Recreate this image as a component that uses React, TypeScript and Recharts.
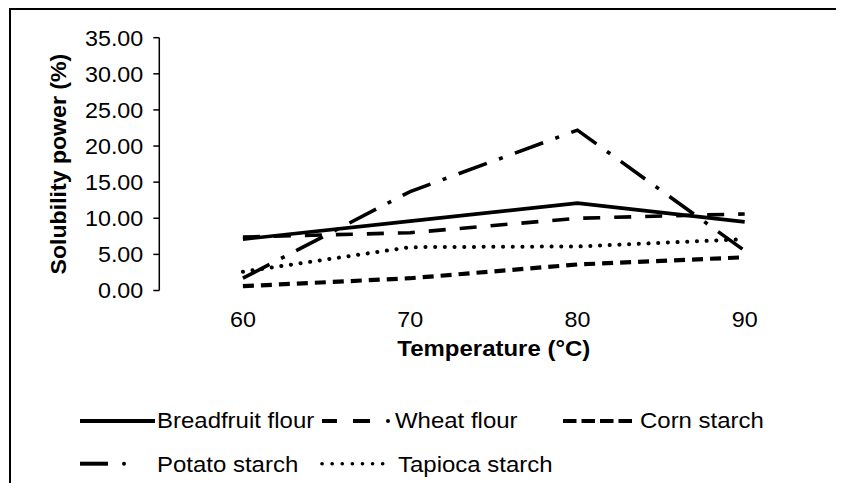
import { LineChart, Line, XAxis, YAxis, Label } from "recharts";

const temps = ["60", "70", "80", "90"];
const breadfruit = [7.1, 9.6, 12.1, 9.5];
const wheat = [7.4, 8.0, 10.0, 10.6];
const corn = [0.6, 1.7, 3.6, 4.6];
const potato = [1.7, 13.7, 22.2, 5.5];
const tapioca = [2.6, 6.0, 6.1, 7.1];
const yTicks = [0, 5, 10, 15, 20, 25, 30, 35];
const bandTicks = [0, 1, 2, 3, 4];

const data = temps.map((t, i) => ({
  temp: t,
  breadfruit: breadfruit[i],
  wheat: wheat[i],
  corn: corn[i],
  potato: potato[i],
  tapioca: tapioca[i],
}));

const FONT = "'Liberation Sans', Arial, sans-serif";
const FS = 22;
// the source text is drawn a little wider than Liberation Sans
const SX = 1.09;

const series = [
  { key: "breadfruit", name: "Breadfruit flour", dash: undefined, width: 3.6, cap: "butt" },
  { key: "wheat", name: "Wheat flour", dash: "17 14", width: 3.6, cap: "butt" },
  { key: "corn", name: "Corn starch", dash: "11 7", width: 4.2, cap: "butt" },
  { key: "potato", name: "Potato starch", dash: "30 13 4 13", width: 3.6, cap: "butt" },
  { key: "tapioca", name: "Tapioca starch", dash: "0.1 9.6", width: 4, cap: "round" },
];

function WideText({ x, y, children, bold, anchor = "start", sx = SX, rotate = 0 }: any) {
  return (
    <text
      transform={`translate(${x} ${y}) rotate(${rotate}) scale(${sx} 1)`}
      textAnchor={anchor}
      fontFamily={FONT}
      fontSize={FS}
      fontWeight={bold ? "bold" : "normal"}
      fill="#000"
    >
      {children}
    </text>
  );
}

function XTick({ x, y, payload }: any) {
  return (
    <WideText x={x} y={y + 15.6} anchor="middle" sx={1.06}>
      {payload.value}
    </WideText>
  );
}

function YTick({ x, y, payload }: any) {
  return (
    <WideText x={x} y={y + 7.8} anchor="end" sx={1.06}>
      {Number(payload.value).toFixed(2)}
    </WideText>
  );
}

function LegendBlock() {
  return (
    <svg
      width={828}
      height={80}
      style={{ position: "absolute", left: 0, top: 395 }}
    >
      <line x1={72} y1={18} x2={147} y2={18} stroke="#000" strokeWidth={4} />
      <WideText x={149} y={25.3}>Breadfruit flour</WideText>
      <line x1={314} y1={18} x2={362} y2={18} stroke="#000" strokeWidth={4} strokeDasharray="15 16 17 100" />
      <circle cx={380} cy={18} r={2} fill="#000" />
      <WideText x={387} y={25.3}>Wheat flour</WideText>
      <line x1={555} y1={18} x2={624} y2={18} stroke="#000" strokeWidth={4} strokeDasharray="13.5 5" />
      <WideText x={632} y={25.3}>Corn starch</WideText>

      <line x1={72} y1={60.7} x2={100} y2={60.7} stroke="#000" strokeWidth={4} />
      <circle cx={116} cy={60.7} r={2} fill="#000" />
      <WideText x={149} y={68.7}>Potato starch</WideText>
      <line x1={314} y1={60.7} x2={376} y2={60.7} stroke="#000" strokeWidth={3.6} strokeDasharray="0.1 10" strokeLinecap="round" />
      <WideText x={390} y={68.7}>Tapioca starch</WideText>
    </svg>
  );
}

export default function App() {
  return (
    <div style={{ position: "relative", width: 828, height: 475, fontFamily: FONT }}>
      <div
        style={{
          position: "absolute",
          left: 1,
          top: 0,
          width: 835,
          height: 483,
          borderTop: "2px solid #000",
          borderLeft: "2px solid #000",
          boxSizing: "border-box",
        }}
      />
      <div style={{ position: "absolute", left: 0, top: 0 }}>
        <LineChart
          width={828}
          height={400}
          data={data}
          margin={{ top: 29.7, right: 7.7, left: 71.3, bottom: 37.5 }}
        >
          <XAxis
            xAxisId="band"
            type="number"
            domain={[0, 4]}
            ticks={bandTicks}
            tick={false}
            height={0}
            tickSize={6}
            stroke="#000"
            strokeWidth={1.5}
          />
          <XAxis
            dataKey="temp"
            height={80}
            axisLine={false}
            tickLine={false}
            tickSize={0}
            tickMargin={21}
            padding={{ left: 83.6, right: 83.6 }}
            tick={<XTick />}
          >
            <Label
              content={({ viewBox }: any) => (
                <WideText x={viewBox.x + viewBox.width / 2} y={viewBox.y + 65.5} anchor="middle" bold>
                  Temperature (°C)
                </WideText>
              )}
            />
          </XAxis>
          <YAxis
            width={80}
            domain={[0, 35]}
            ticks={yTicks}
            tickSize={6}
            tickMargin={10}
            stroke="#000"
            strokeWidth={1.5}
            tick={<YTick />}
          >
            <Label
              content={({ viewBox }: any) => (
                <WideText
                  x={viewBox.x - 13.6}
                  y={viewBox.y + viewBox.height / 2}
                  anchor="middle"
                  rotate={-90}
                  sx={1.05}
                  bold
                >
                  Solubility power (%)
                </WideText>
              )}
            />
          </YAxis>
          {series.map((s) => (
            <Line
              key={s.key}
              dataKey={s.key}
              name={s.name}
              type="linear"
              stroke="#000"
              strokeWidth={s.width}
              strokeDasharray={s.dash}
              strokeLinecap={s.cap as any}
              dot={false}
              activeDot={false}
              isAnimationActive={false}
            />
          ))}
        </LineChart>
      </div>
      <LegendBlock />
    </div>
  );
}
